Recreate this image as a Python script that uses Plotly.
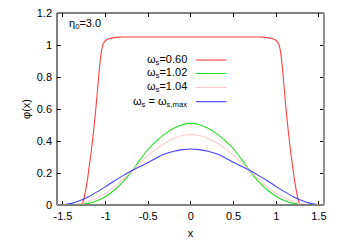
import plotly.graph_objects as go

# half-profile abscissae (|x|), mirrored to negative side
x_half = [0.0, 0.1, 0.2, 0.3, 0.4, 0.5, 0.6, 0.7, 0.8, 0.9, 1.0, 1.1, 1.2, 1.3, 1.4, 1.5]
green_half = [0.510, 0.502, 0.480, 0.446, 0.402, 0.350, 0.280, 0.206, 0.143, 0.092, 0.053, 0.026, 0.010, 0.003, 0.0, 0.0]
pink_half = [0.440, 0.434, 0.416, 0.389, 0.352, 0.310, 0.262, 0.208, 0.158, 0.112, 0.073, 0.043, 0.022, 0.009, 0.002, 0.0]
blue_half = [0.350, 0.346, 0.336, 0.320, 0.296, 0.266, 0.240, 0.212, 0.182, 0.150, 0.115, 0.082, 0.052, 0.028, 0.010, 0.0]

red_x_half = [0.0, 0.5, 0.8, 0.85, 0.9, 0.95, 1.0, 1.03, 1.05, 1.07, 1.09, 1.11, 1.13, 1.15, 1.17, 1.19, 1.21, 1.23, 1.25, 1.27, 1.29, 1.35, 1.5]
red_half = [1.05, 1.05, 1.05, 1.049, 1.046, 1.04, 1.028, 1.005, 0.96, 0.87, 0.75, 0.63, 0.52, 0.42, 0.33, 0.25, 0.17, 0.105, 0.05, 0.015, 0.0, 0.0, 0.0]

labels = ["ω<sub>s</sub>=0.60", "ω<sub>s</sub>=1.02", "ω<sub>s</sub>=1.04", "ω<sub>s</sub> = ω<sub>s,max</sub>"]
colors = ["#ff4040", "#22dd22", "#ffcccc", "#4040ff"]

def mirror(xs, ys):
    xx = [-v for v in reversed(xs[1:])] + list(xs)
    yy = list(reversed(ys[1:])) + list(ys)
    return xx, yy

series = [mirror(red_x_half, red_half), mirror(x_half, green_half),
          mirror(x_half, pink_half), mirror(x_half, blue_half)]

fig = go.Figure()
for (xx, yy), c, name in zip(series, colors, labels):
    fig.add_trace(go.Scatter(x=xx, y=yy, mode="lines", line=dict(color=c, width=1.1, shape="spline", smoothing=0.6),
                             name=name, showlegend=False))

font = dict(family="Liberation Sans, Arial, sans-serif", size=11, color="black")

ann = []
shapes = []
ys_leg = [0.755, 0.685, 0.612, 0.538]
for lab, c, yp in zip(labels, colors, ys_leg):
    ann.append(dict(xref="paper", yref="paper", x=0.496, y=yp, text=lab, showarrow=False,
                    xanchor="right", yanchor="middle", font=font))
    shapes.append(dict(type="line", xref="paper", yref="paper", x0=0.52, x1=0.635, y0=yp, y1=yp,
                       line=dict(color=c, width=1.1)))
ann.append(dict(xref="paper", yref="paper", x=0.037, y=0.942, text="η<sub>0</sub>=3.0", showarrow=False,
                xanchor="left", yanchor="middle", font=font))

# border
shapes += [
    dict(type="line", xref="paper", yref="paper", x0=0, x1=1, y0=1, y1=1, line=dict(color="black", width=1)),
    dict(type="line", xref="paper", yref="paper", x0=0, x1=0, y0=0, y1=1, line=dict(color="black", width=1)),
    dict(type="line", xref="paper", yref="paper", x0=0, x1=1, y0=0, y1=0, line=dict(color="#808080", width=2)),
    dict(type="line", xref="paper", yref="paper", x0=1, x1=1, y0=0, y1=1, line=dict(color="#909090", width=2)),
]

fig.update_layout(
    width=346, height=242,
    margin=dict(l=57, r=22, t=13, b=37),
    paper_bgcolor="white", plot_bgcolor="white",
    font=font,
    annotations=ann, shapes=shapes,
    xaxis=dict(range=[-1.57, 1.56], tickvals=[-1.5, -1, -0.5, 0, 0.5, 1, 1.5],
               ticktext=["-1.5", "-1", "-0.5", "0", "0.5", "1", "1.5"],
               ticks="inside", ticklen=4, tickcolor="black", mirror="ticks", showline=False,
               showgrid=False, zeroline=False, automargin=False, ticklabelstandoff=3,
               title=dict(text="x", font=font, standoff=8)),
    yaxis=dict(range=[0, 1.2], tickvals=[0, 0.2, 0.4, 0.6, 0.8, 1.0, 1.2],
               ticktext=["0", "0.2", "0.4", "0.6", "0.8", "1", "1.2"],
               ticks="inside", ticklen=4, tickcolor="black", mirror="ticks", showline=False,
               showgrid=False, zeroline=False, automargin=False, ticklabelstandoff=4,
               title=dict(text="φ(x)", font=font, standoff=3)),
)

fig.write_html("out.html", config={"displayModeBar": False},
               post_script="document.body.style.margin='0';")
